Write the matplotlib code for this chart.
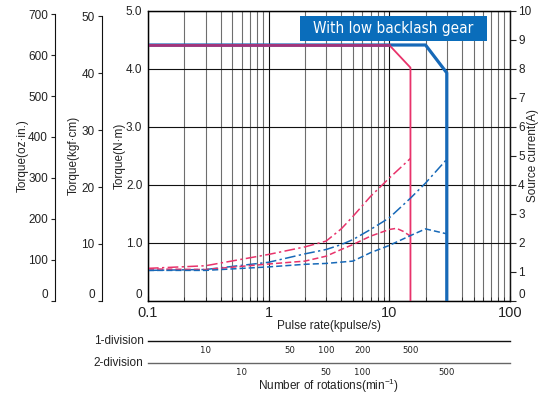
import matplotlib
matplotlib.use("Agg")
import matplotlib.pyplot as plt
from matplotlib.patches import Rectangle
from matplotlib.ticker import FixedLocator, NullLocator

plt.rcParams["font.family"] = ["Liberation Sans", "DejaVu Sans"]
plt.rcParams["mathtext.fontset"] = "custom"
plt.rcParams["mathtext.rm"] = "Liberation Sans"

PINK = "#e8336b"
BLUE = "#1769b8"
PURPLE = "#a0357c"

# pull-out torque (N·m) vs pulse rate (kpulse/s)
pullout_pulse_1div = [0.1, 10, 15, 15]
pullout_torque_1div = [4.41, 4.41, 4.02, 0]
pullout_pulse_2div = [0.1, 20, 30, 30]
pullout_torque_2div = [4.41, 4.41, 3.93, 0]

# source current (A)
cur_pulse_1div_a = [0.1, 0.3, 1, 2, 3, 4, 5, 7, 10, 15]
cur_1div_a = [1.12, 1.21, 1.6, 1.86, 2.06, 2.48, 2.91, 3.6, 4.23, 4.91]
cur_pulse_2div_a = [0.1, 0.3, 1, 2, 3, 4, 5, 7, 10, 15, 20, 30]
cur_2div_a = [1.05, 1.08, 1.33, 1.62, 1.77, 1.94, 2.11, 2.46, 2.86, 3.54, 4.06, 4.88]
cur_pulse_1div_b = [0.1, 0.3, 1, 2, 3, 4, 5, 7, 10, 11.5, 13, 15]
cur_1div_b = [1.1, 1.08, 1.27, 1.37, 1.54, 1.77, 1.94, 2.23, 2.46, 2.5, 2.4, 2.23]
cur_pulse_2div_b = [0.1, 0.3, 1, 2, 3, 5, 7, 10, 15, 20, 30]
cur_2div_b = [1.05, 1.05, 1.17, 1.26, 1.29, 1.37, 1.66, 1.91, 2.25, 2.48, 2.31]

# rotation scales (deg per pulse after gear)
deg_per_pulse_1div = 0.2
deg_per_pulse_2div = 0.1
rot_ticks_1div = [10, 50, 100, 200, 500]
rot_ticks_2div = [10, 50, 100, 500]

NM_PER_OZIN = 0.00706155
NM_PER_KGFCM = 0.0980665

NARROW = dict(family="DejaVu Sans", stretch="condensed")


def rotation_axis(ax, deg, ticks, loc, color, name):
    k = deg * 1000 / 6.0  # kpulse/s -> min-1
    sec = ax.secondary_xaxis(loc, functions=(lambda f: f * k, lambda n: n / k))
    sec.xaxis.set_major_locator(FixedLocator(ticks))
    sec.xaxis.set_minor_locator(NullLocator())
    sec.set_xticklabels([str(t) for t in ticks])
    sec.tick_params(length=0, pad=4, labelsize=6.8, labelcolor="#222")
    for lab in sec.get_xticklabels():
        lab.set_family(NARROW["family"])
        lab.set_stretch(NARROW["stretch"])
    for s in sec.spines.values():
        s.set_color(color)
        s.set_linewidth(1.0)
    ax.text(-0.012, loc, name, transform=ax.transAxes, ha="right", va="center",
            fontsize=8.5, color="#222")
    return sec


def raise_zero(axis):
    # the "0" labels sit just above the bottom line
    axis.yaxis.get_major_ticks()[0].label1.set_va("bottom")
    axis.yaxis.get_major_ticks()[0].label2.set_va("bottom")


def main():
    fig = plt.figure(figsize=(5.5, 3.99), dpi=100)
    ax = fig.add_axes([0.269, 0.246, 0.658, 0.727])
    ax.set_xscale("log")
    ax.set_xlim(0.1, 100)
    ax.set_ylim(0, 5)

    # grid
    ax.xaxis.set_major_locator(FixedLocator([0.1, 1, 10, 100]))
    ax.set_xticklabels(["0.1", "1", "10", "100"])
    ax.grid(True, which="major", color="#111", lw=0.8)
    ax.grid(True, which="minor", axis="x", color="#6e6e6e", lw=0.8)
    ax.set_yticks([0, 1, 2, 3, 4, 5])
    ax.set_yticklabels(["0", "1.0", "2.0", "3.0", "4.0", "5.0"])
    ax.tick_params(axis="y", length=0, pad=4, labelsize=8.5, colors="#222")
    ax.tick_params(axis="x", which="both", direction="in", labelsize=10.5,
                   pad=4, colors="#222")
    ax.tick_params(axis="x", which="minor", length=3)
    raise_zero(ax)
    for s in ax.spines.values():
        s.set_color("#111")
        s.set_linewidth(1.0)
    ax.set_xlabel("Pulse rate(kpulse/s)", fontsize=8.5, labelpad=0, color="#222")

    # pull-out torque
    ax.plot(pullout_pulse_2div, pullout_torque_2div, color=BLUE, lw=2.3, zorder=4)
    ax.plot(pullout_pulse_1div, pullout_torque_1div, color=PINK, lw=1.3, zorder=5)
    ax.plot(pullout_pulse_1div[:2], pullout_torque_1div[:2], color=PURPLE, lw=2.0,
            zorder=6)

    # source current
    axc = ax.twinx()
    axc.set_ylim(0, 10)
    axc.set_yticks(range(11))
    axc.tick_params(axis="y", length=4, labelsize=8.5, pad=2, colors="#222")
    axc.spines["right"].set_color("#111")
    raise_zero(axc)
    dd = (0, (7, 2.2, 1.5, 2.2))
    dsh = (0, (4, 2))
    axc.plot(cur_pulse_1div_a, cur_1div_a, color=PINK, lw=1.1, ls=dd)
    axc.plot(cur_pulse_2div_a, cur_2div_a, color=BLUE, lw=1.1, ls=dd)
    axc.plot(cur_pulse_1div_b, cur_1div_b, color=PINK, lw=1.1, ls=dsh)
    axc.plot(cur_pulse_2div_b, cur_2div_b, color=BLUE, lw=1.1, ls=dsh)

    # extra torque scales
    for unit, top, ticks, off in [(NM_PER_KGFCM, 50, range(0, 51, 10), -0.128),
                                  (NM_PER_OZIN, 700, range(0, 701, 100), -0.257)]:
        a = ax.twinx()
        a.set_ylim(0, 5 / unit)
        a.spines["right"].set_visible(False)
        a.spines["top"].set_visible(False)
        a.spines["bottom"].set_visible(False)
        a.spines["left"].set_visible(True)
        a.spines["left"].set_position(("axes", off))
        a.spines["left"].set_bounds(0, top)
        a.spines["left"].set_color("#111")
        a.yaxis.set_ticks_position("left")
        a.yaxis.set_label_position("left")
        a.set_yticks(list(ticks))
        a.tick_params(axis="y", length=3, labelsize=8.5, pad=2, colors="#222")
        raise_zero(a)

    lab_kw = dict(transform=ax.transAxes, rotation=90, ha="center", va="center",
                  fontsize=8.5, color="#222")
    ax.text(-0.077, 0.5, "Torque(N·m)", **lab_kw)
    ax.text(-0.205, 0.5, "Torque(kgf·cm)", **lab_kw)
    ax.text(-0.345, 0.5, "Torque(oz·in.)", **lab_kw)
    ax.text(1.064, 0.5, "Source current(A)", **lab_kw)

    # label box
    ax.add_patch(Rectangle((0.42, 0.895), 0.516, 0.088, transform=ax.transAxes,
                           facecolor="#0a6dbb", edgecolor="none", zorder=7))
    ax.text(0.677, 0.938, "With low backlash gear", transform=ax.transAxes,
            ha="center", va="center", color="white", fontsize=11, zorder=8,
            **NARROW)

    # rotation scales
    rotation_axis(ax, deg_per_pulse_1div, rot_ticks_1div, -0.138, "#111", "1-division")
    rotation_axis(ax, deg_per_pulse_2div, rot_ticks_2div, -0.214, "#666", "2-division")
    ax.text(0.5, -0.293, r"Number of rotations(min$^{\mathregular{-1}}$)",
            transform=ax.transAxes, ha="center", va="center", fontsize=8.5,
            color="#222")

    fig.savefig("out.png", dpi=100)


if __name__ == "__main__":
    main()
